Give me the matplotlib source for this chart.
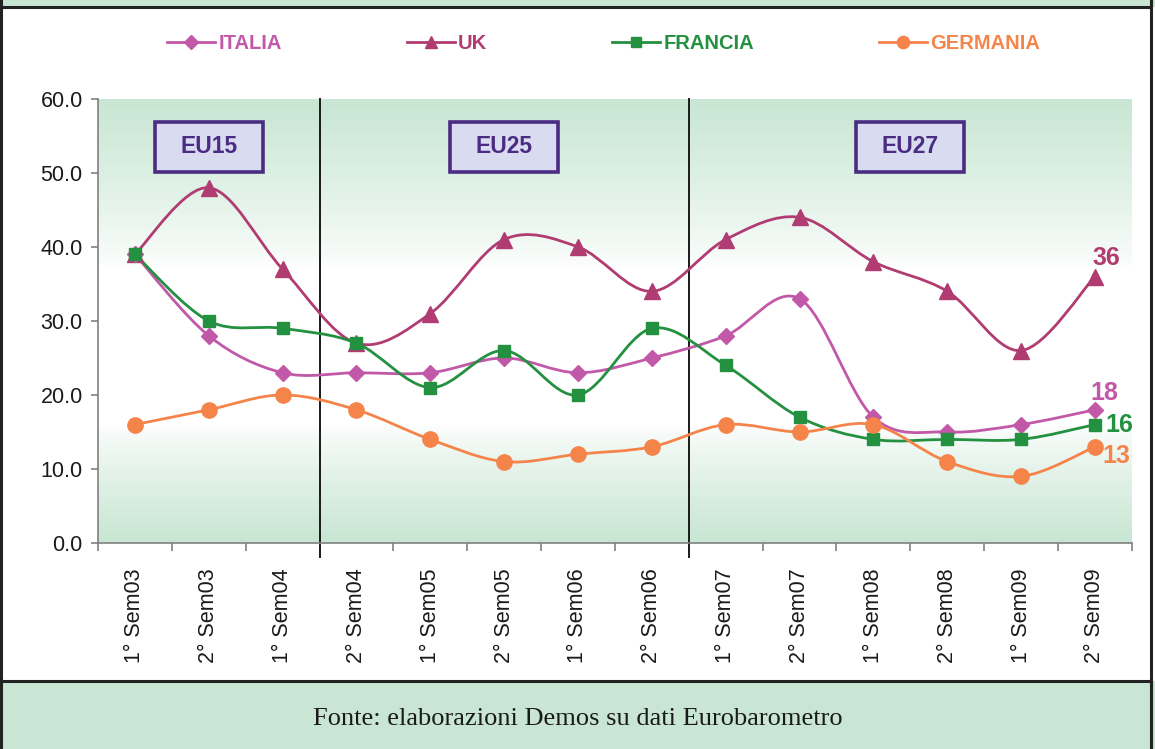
import numpy as np
import matplotlib.pyplot as plt
from matplotlib.path import Path
from matplotlib.patches import PathPatch, Rectangle
from matplotlib.lines import Line2D

plt.rcParams['font.family'] = ['Liberation Sans', 'DejaVu Sans']

categories = ["1° Sem03", "2° Sem03", "1° Sem04", "2° Sem04", "1° Sem05", "2° Sem05", "1° Sem06",
              "2° Sem06", "1° Sem07", "2° Sem07", "1° Sem08", "2° Sem08", "1° Sem09", "2° Sem09"]
italia = [39, 28, 23, 23, 23, 25, 23, 25, 28, 33, 17, 15, 16, 18]
uk = [39, 48, 37, 27, 31, 41, 40, 34, 41, 44, 38, 34, 26, 36]
francia = [39, 30, 29, 27, 21, 26, 20, 29, 24, 17, 14, 14, 14, 16]
germania = [16, 18, 20, 18, 14, 11, 12, 13, 16, 15, 16, 11, 9, 13]

series = [
    ("UK", uk, "#b03c72", "^", 11.5),
    ("ITALIA", italia, "#c258a8", "D", 8.5),
    ("FRANCIA", francia, "#23913f", "s", 8.5),
    ("GERMANIA", germania, "#f5844a", "o", 11),
]
legend_order = ["ITALIA", "UK", "FRANCIA", "GERMANIA"]

groups = ["EU15", "EU25", "EU27"]
group_centers = [1, 5, 10.5]
group_breaks = [2.5, 7.5]

green = np.array([0.784, 0.902, 0.827])


def smooth_path(x, y):
    # bezier segments, catmull-rom style like the excel "smoothed line"
    pts = np.column_stack([x, y]).astype(float)
    n = len(pts)
    verts = [pts[0]]
    codes = [Path.MOVETO]
    for i in range(n - 1):
        p0 = pts[i - 1] if i > 0 else pts[i]
        p1 = pts[i]
        p2 = pts[i + 1]
        p3 = pts[i + 2] if i + 2 < n else pts[i + 1]
        c1 = p1 + (p2 - p0) / 6
        c2 = p2 - (p3 - p1) / 6
        verts += [c1, c2, p2]
        codes += [Path.CURVE4] * 3
    return Path(verts, codes)


fig = plt.figure(figsize=(11.55, 7.49), dpi=100)

# frame bands
fig.patches.append(Rectangle((0, 0.9907), 1, 0.01, transform=fig.transFigure,
                             facecolor=green, edgecolor='none'))
fig.patches.append(Rectangle((0, 0), 1, 0.0908, transform=fig.transFigure,
                             facecolor=green, edgecolor='none'))
for yy in [0.9907, 0.0908]:
    fig.add_artist(Line2D([0, 0.9965], [yy, yy], transform=fig.transFigure, color='#222222', lw=2.2))
for xx in [0.0008, 0.9965]:
    fig.add_artist(Line2D([xx, xx], [0, 1], transform=fig.transFigure, color='#222222', lw=2.2))

ax = fig.add_axes([0.0848, 0.275, 0.8952, 0.593])
x = np.arange(len(categories))
ax.set_xlim(-0.5, len(categories) - 0.5)
ax.set_ylim(0, 60)

# background gradient
yy = np.linspace(60, 0, 300)
t = np.zeros_like(yy)
t = np.where(yy > 37, (yy - 37) / 23, t)
t = np.where(yy < 16, (16 - yy) / 16, t)
t = np.clip(t, 0, 1) ** 0.8
grad = (1 - t[:, None]) * np.ones(3) + t[:, None] * green
ax.imshow(grad[:, None, :], extent=[-0.5, len(categories) - 0.5, 0, 60],
          aspect='auto', zorder=0, interpolation='bilinear')

for b in group_breaks:
    ax.axvline(b, ymin=-0.032, ymax=1, color='#1a1a1a', lw=1.4, clip_on=False, zorder=2)

handles = {}
for name, vals, col, mk, ms in series:
    ax.add_patch(PathPatch(smooth_path(x, vals), facecolor='none', edgecolor=col, lw=2.0, zorder=3))
    ax.plot(x, vals, linestyle='none', marker=mk, ms=ms, color=col, zorder=4)
    handles[name] = Line2D([], [], color=col, lw=2.0, marker=mk, ms=ms * 0.8)

# end labels
lab_kw = dict(fontsize=18, fontweight='bold', va='center')
ax.text(13.16, 38.5, "36", color="#b03c72", ha='center', **lab_kw)
ax.text(13.12, 20.3, "18", color="#c258a8", ha='center', **lab_kw)
ax.text(13.14, 15.9, "16", color="#23913f", ha='left', **lab_kw)
ax.text(13.1, 11.8, "13", color="#f5844a", ha='left', **lab_kw)

# group boxes
for g, c in zip(groups, group_centers):
    ax.add_patch(Rectangle((c - 0.73, 50.1), 1.46, 6.8, facecolor='#d9dcf0', edgecolor='#4a2c82',
                           lw=2.6, zorder=5))
    ax.text(c, 53.5, g, fontsize=16.5, fontweight='bold', color='#4a2c82', ha='center', va='center',
            zorder=6)

ax.set_yticks(np.arange(0, 61, 10))
ax.set_yticklabels([f"{v:.1f}" for v in np.arange(0, 61, 10)], fontsize=15.5, color='#1a1a1a')
ax.set_xticks(np.arange(-0.5, len(categories), 1), minor=False)
ax.set_xticklabels([])
ax.set_xticks(x, minor=True)
ax.set_xticklabels(categories, minor=True, rotation=90, fontsize=15.5, color='#1a1a1a')
ax.tick_params(axis='x', which='major', length=6, color='#808080', width=1.2, direction='out')
ax.tick_params(axis='x', which='minor', length=0, pad=18)
ax.tick_params(axis='y', length=5, color='#808080', width=1.2, pad=6)
for s in ['top', 'right']:
    ax.spines[s].set_visible(False)
for s in ['left', 'bottom']:
    ax.spines[s].set_color('#808080')
    ax.spines[s].set_linewidth(1.2)

leg = fig.legend([handles[n] for n in legend_order], legend_order, loc='center',
                 bbox_to_anchor=(0.5225, 0.942), ncol=4, frameon=False, handlelength=2.4,
                 handletextpad=0.15, columnspacing=6.2, prop={'weight': 'bold', 'size': 14.5})
for txt, n in zip(leg.get_texts(), legend_order):
    txt.set_color(dict((s[0], s[2]) for s in series)[n])

fig.text(0.5, 0.04, "Fonte: elaborazioni Demos su dati Eurobarometro", ha='center', va='center',
         fontsize=19, family=['Liberation Serif', 'DejaVu Serif'], color='#1a1a1a')

fig.savefig("out.png", dpi=100)
